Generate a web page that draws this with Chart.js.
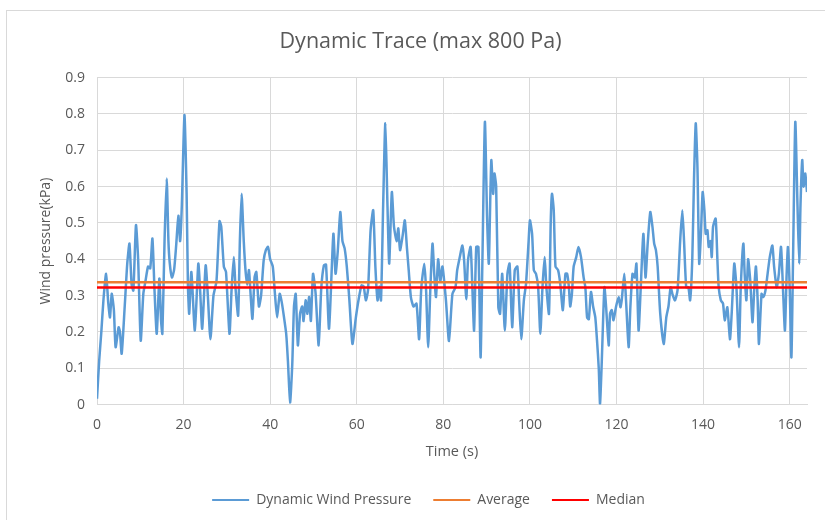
<!DOCTYPE html>
<html>
<head>
<meta charset="utf-8">
<script src="https://cdn.jsdelivr.net/npm/chart.js@4.4.1/dist/chart.umd.min.js"></script>
<style>
  html, body { margin: 0; padding: 0; background: #ffffff; }
  #wrap { position: relative; width: 825px; height: 520px; overflow: hidden; }
  #frame { position: absolute; left: 6px; top: 10px; width: 840px; height: 540px; border: 1px solid #d9d9d9; box-sizing: border-box; }
  canvas { position: absolute; left: 0; top: 0; }
</style>
</head>
<body>
<div id="wrap">
  <div id="frame"></div>
  <canvas id="c" width="825" height="520"></canvas>
</div>
<script>
// ---- data ----
const chartTitle = "Dynamic Trace (max 800 Pa)";
const seriesNames = ["Dynamic Wind Pressure", "Average", "Median"];
const timeSeconds = [
  0.0,0.5,1.0,1.5,2.1,2.6,3.0,3.4,3.9,4.3,5.0,5.3,5.7,6.4,7.0,7.5,8.0,8.4,9.0,9.5,
  10.1,10.7,11.2,11.8,12.3,12.8,13.3,13.8,14.4,14.8,15.1,15.6,16.1,16.5,16.8,17.3,17.8,18.3,18.8,19.2,
  19.6,20.2,20.7,21.0,21.3,21.8,22.6,23.4,23.8,24.3,25.1,25.6,26.2,26.9,27.6,28.3,28.7,29.3,29.8,30.6,
  31.1,31.6,32.0,32.6,33.0,33.4,33.9,34.3,34.7,35.1,35.5,35.9,36.4,36.8,37.4,37.9,38.5,39.0,39.5,40.0,
  40.6,41.1,41.6,42.2,42.7,43.2,43.7,44.1,44.6,45.1,45.5,45.9,46.4,46.9,47.4,47.7,48.2,48.6,49.0,49.4,
  49.9,50.5,51.2,51.8,52.4,52.9,53.6,54.6,55.1,55.6,56.2,56.7,57.2,57.7,58.3,59.0,59.8,60.4,61.1,61.6,
  62.1,62.6,63.2,63.8,64.3,64.8,65.2,65.6,66.1,66.6,67.1,67.5,68.1,68.6,69.2,69.6,70.0,70.6,71.1,71.6,
  72.0,72.5,73.1,73.8,74.4,74.9,75.6,76.0,76.5,77.0,77.5,77.9,78.3,78.8,79.3,79.8,80.6,81.3,82.1,82.8,
  83.2,83.8,84.4,84.8,85.3,85.7,86.3,86.7,87.1,87.6,88.1,88.6,89.0,89.6,90.1,90.5,90.9,91.1,91.5,91.8,
  92.2,92.7,93.1,93.6,94.2,94.8,95.3,95.9,96.5,97.1,97.5,98.0,98.6,99.1,99.7,100.0,100.5,100.9,101.4,101.9,
  102.4,102.9,103.4,103.8,104.4,104.8,105.1,105.5,105.9,106.5,107.0,107.6,108.2,108.6,109.0,109.3,109.7,110.1,110.7,111.2,
  111.8,112.4,112.8,113.2,113.6,114.1,114.6,115.1,115.5,115.9,116.2,116.6,117.2,117.6,118.2,118.5,118.9,119.3,119.9,120.5,
  120.9,121.2,121.8,122.2,122.8,123.2,123.7,124.2,124.6,125.1,125.6,126.2,126.7,127.2,127.8,128.3,128.7,129.1,129.5,130.1,
  130.9,131.5,132.0,132.5,132.9,133.5,134.1,134.7,135.2,135.6,136.1,136.6,137.0,137.5,137.9,138.3,138.7,139.1,139.5,139.9,
  140.3,140.6,141.0,141.3,141.7,142.0,142.3,142.9,143.3,143.6,144.1,144.6,145.0,145.6,146.2,146.6,147.2,147.7,148.3,148.7,
  149.3,149.6,150.0,150.4,150.9,151.4,151.8,152.2,152.6,152.9,153.5,153.9,154.4,154.9,155.4,156.0,156.4,157.0,157.5,158.0,
  158.5,158.9,159.3,159.6,160.0,160.4,160.8,161.3,161.8,162.2,162.5,162.9,163.2,163.6,164.0
];
const windPressure = [
  0.016,0.12,0.20,0.29,0.36,0.28,0.24,0.305,0.26,0.158,0.213,0.20,0.14,0.27,0.39,0.443,0.33,0.314,0.494,0.40,
  0.176,0.305,0.34,0.38,0.375,0.457,0.31,0.195,0.347,0.23,0.195,0.45,0.622,0.45,0.39,0.35,0.37,0.44,0.52,0.45,
  0.55,0.797,0.58,0.33,0.25,0.365,0.204,0.388,0.32,0.209,0.383,0.30,0.18,0.30,0.34,0.505,0.49,0.38,0.365,0.195,
  0.32,0.406,0.32,0.245,0.45,0.58,0.45,0.37,0.33,0.37,0.30,0.236,0.35,0.365,0.27,0.30,0.397,0.425,0.434,0.40,
  0.38,0.305,0.24,0.305,0.28,0.24,0.195,0.12,0.006,0.11,0.27,0.305,0.163,0.25,0.27,0.23,0.287,0.25,0.296,0.23,
  0.36,0.305,0.163,0.32,0.383,0.385,0.209,0.47,0.36,0.42,0.53,0.45,0.43,0.38,0.287,0.167,0.24,0.287,0.328,0.325,
  0.287,0.315,0.48,0.535,0.38,0.287,0.325,0.287,0.55,0.774,0.545,0.388,0.585,0.49,0.45,0.485,0.425,0.465,0.507,0.43,
  0.37,0.296,0.27,0.278,0.18,0.32,0.388,0.32,0.158,0.32,0.443,0.36,0.296,0.40,0.34,0.38,0.287,0.175,0.305,0.323,
  0.37,0.406,0.438,0.397,0.29,0.397,0.434,0.323,0.204,0.434,0.434,0.13,0.38,0.778,0.516,0.388,0.60,0.673,0.58,0.636,
  0.60,0.268,0.25,0.36,0.204,0.36,0.388,0.213,0.37,0.38,0.287,0.18,0.287,0.333,0.45,0.507,0.47,0.37,0.36,0.323,
  0.195,0.323,0.406,0.323,0.25,0.50,0.58,0.535,0.38,0.37,0.333,0.26,0.36,0.36,0.323,0.27,0.305,0.38,0.406,0.434,
  0.406,0.35,0.323,0.24,0.235,0.31,0.27,0.24,0.176,0.10,0.002,0.12,0.323,0.268,0.163,0.25,0.26,0.232,0.27,0.296,
  0.268,0.287,0.36,0.287,0.158,0.268,0.36,0.35,0.388,0.204,0.323,0.47,0.35,0.443,0.53,0.49,0.443,0.425,0.38,0.25,
  0.167,0.24,0.27,0.323,0.305,0.287,0.315,0.45,0.535,0.45,0.323,0.323,0.287,0.40,0.62,0.774,0.65,0.388,0.47,0.585,
  0.535,0.47,0.48,0.434,0.45,0.406,0.49,0.512,0.40,0.323,0.287,0.278,0.232,0.268,0.18,0.25,0.388,0.323,0.158,0.323,
  0.443,0.36,0.287,0.40,0.34,0.227,0.314,0.38,0.287,0.167,0.305,0.296,0.314,0.36,0.406,0.438,0.38,0.323,0.36,0.434,
  0.305,0.204,0.36,0.434,0.323,0.13,0.42,0.778,0.55,0.388,0.55,0.673,0.60,0.636,0.585
];
const averageValue = 0.337;
const medianValue = 0.322;
const xTickStep = 20;
const yTickStep = 0.1;
const xMax = 164;
const yMax = 0.9;

// ---- build library data from the arrays ----
const tracePoints = timeSeconds.map((t, i) => ({ x: t, y: windPressure[i] }));
const tStart = timeSeconds[0];
const tEnd = timeSeconds[timeSeconds.length - 1];
const avgPoints = [{ x: tStart, y: averageValue }, { x: tEnd, y: averageValue }];
const medPoints = [{ x: tStart, y: medianValue }, { x: tEnd, y: medianValue }];

const textColor = '#595959';
const gridColor = '#d9d9d9';
const fam = '"Open Sans", Lato, sans-serif';

// nudge the legend a few pixels right, as in the reference
const legendShift = {
  id: 'legendShift',
  afterLayout(chart) {
    if (chart.legend) { chart.legend.left += 8; chart.legend.right += 8; }
  }
};

new Chart(document.getElementById('c'), {
  type: 'line',
  plugins: [legendShift],
  data: {
    datasets: [
      { label: seriesNames[0], data: tracePoints, borderColor: '#5B9BD5', backgroundColor: '#5B9BD5',
        borderWidth: 2.5, pointRadius: 0, tension: 0.2, order: 3 },
      { label: seriesNames[1], data: avgPoints, borderColor: '#ED7D31', backgroundColor: '#ED7D31',
        borderWidth: 2.5, pointRadius: 0, order: 2 },
      { label: seriesNames[2], data: medPoints, borderColor: '#FF0000', backgroundColor: '#FF0000',
        borderWidth: 2.5, pointRadius: 0, order: 1 }
    ]
  },
  options: {
    responsive: false,
    animation: false,
    layout: { padding: { left: 34, right: 18, top: 20, bottom: 3 } },
    plugins: {
      tooltip: { enabled: false },
      title: {
        display: true, text: chartTitle, color: textColor,
        font: { family: fam, size: 21.5, weight: 'normal' },
        padding: { top: 9, bottom: 22.8 }
      },
      legend: {
        position: 'bottom',
        labels: {
          color: textColor,
          font: { family: fam, size: 14 },
          usePointStyle: true,
          pointStyleWidth: 37,
          padding: 22,
          generateLabels: (chart) => chart.data.datasets.map((ds, i) => ({
            text: ds.label, fillStyle: ds.borderColor, strokeStyle: ds.borderColor,
            lineWidth: 2, pointStyle: 'line', datasetIndex: i, hidden: false, fontColor: textColor
          }))
        }
      }
    },
    scales: {
      x: {
        type: 'linear', min: 0, max: xMax,
        ticks: { stepSize: xTickStep, includeBounds: false, color: textColor,
                 font: { family: fam, size: 14 }, padding: 12 },
        grid: { color: gridColor, drawTicks: false },
        border: { color: gridColor },
        title: { display: true, text: 'Time (s)', color: textColor,
                 font: { family: fam, size: 14.5 }, padding: { top: 4, bottom: 10.2 } },
        afterFit: (s) => { s.height = 66.4; }
      },
      y: {
        min: 0, max: yMax,
        ticks: { stepSize: yTickStep, color: textColor, font: { family: fam, size: 14 }, padding: 12 },
        grid: { color: gridColor, drawTicks: false },
        border: { color: gridColor },
        title: { display: true, text: 'Wind pressure(kPa)', color: textColor,
                 font: { family: fam, size: 14 }, padding: { top: 4, bottom: 4 } },
        afterFit: (s) => { s.width = 63; }
      }
    }
  }
});
</script>
</body>
</html>
